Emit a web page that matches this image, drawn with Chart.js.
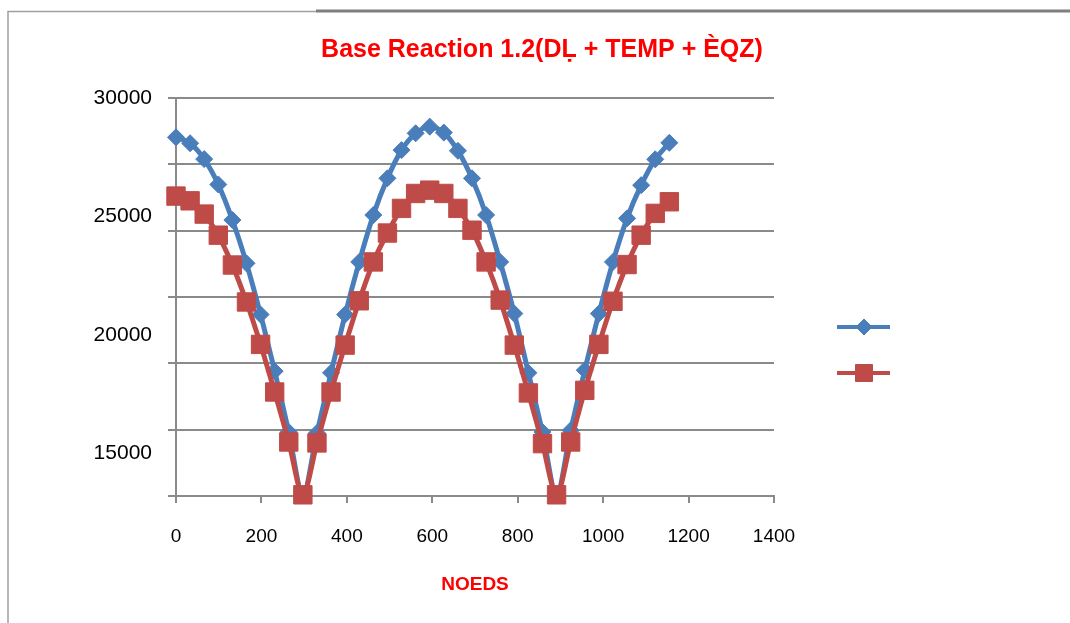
<!DOCTYPE html>
<html>
<head>
<meta charset="utf-8">
<script src="https://cdn.jsdelivr.net/npm/chart.js@4/dist/chart.umd.min.js"></script>
<style>
html,body{margin:0;padding:0;background:#fff;}
#wrap{position:relative;width:1070px;height:623px;}
canvas{display:block;}
</style>
</head>
<body>
<div id="wrap"><canvas id="c" width="1070" height="623"></canvas></div>
<script>
// ---- data ----
const nodes = [0,33,66,99,132,165,198,231,264,297,330,363,396,429,462,495,528,561,594,627,660,693,726,759,792,825,858,891,924,957,990,1023,1056,1089,1122,1155];
const series1 = [28340,28090,27420,26350,24850,23020,20860,18470,15900,13250,15860,18400,20860,23080,25060,26610,27800,28510,28790,28540,27770,26610,25060,23080,20900,18400,15900,13250,15970,18510,20900,23080,24920,26320,27410,28110];
const series2 = [25860,25660,25100,24210,22950,21390,19600,17590,15480,13250,15440,17590,19570,21440,23080,24300,25340,25970,26110,25970,25340,24420,23080,21470,19570,17550,15410,13250,15480,17660,19600,21420,22970,24210,25130,25620];
const xTicks = [0,200,400,600,800,1000,1200,1400];
const yLabelTicks = [15000,20000,25000,30000];
const yGridTicks = [13200,16000,18800,21600,24400,27200,30000];
const chartTitle = 'Base Reaction 1.2(D\u1E36 + TEMP + \u00C8QZ)';
const xTitle = 'NOEDS';

const BLUE = '#4A7EBB', RED = '#BE4B48', GRID = '#8a8a8a';
const FONT = "'Liberation Sans', Arial, sans-serif";

const framePlugin = {
  id: 'frame',
  beforeDraw(chart) {
    const ctx = chart.ctx;
    ctx.save();
    ctx.fillStyle = '#fff';
    ctx.fillRect(0, 0, chart.width, chart.height);
    ctx.strokeStyle = '#a0a0a0';
    ctx.lineWidth = 1.5;
    ctx.beginPath();
    ctx.moveTo(8, 623); ctx.lineTo(8, 11.5); ctx.lineTo(316, 11.5);
    ctx.stroke();
    ctx.strokeStyle = '#7f7f7f';
    ctx.lineWidth = 3;
    ctx.beginPath();
    ctx.moveTo(316, 11); ctx.lineTo(1070, 11);
    ctx.stroke();
    ctx.restore();
  }
};

const legendPlugin = {
  id: 'sideLegend',
  afterDraw(chart) {
    const ctx = chart.ctx;
    const items = [
      {color: BLUE, style: 'rectRot', radius: 8, y: 327},
      {color: RED, style: 'rect', radius: 12, y: 373}
    ];
    items.forEach(it => {
      ctx.save();
      ctx.strokeStyle = it.color;
      ctx.lineWidth = 4;
      ctx.beginPath();
      ctx.moveTo(837, it.y); ctx.lineTo(890, it.y);
      ctx.stroke();
      ctx.fillStyle = it.color;
      ctx.lineWidth = 1;
      Chart.helpers.drawPoint(ctx, {pointStyle: it.style, radius: it.radius, rotation: 0, borderWidth: 1}, 864, it.y);
      ctx.restore();
    });
  }
};

const plain = v => String(v);

new Chart(document.getElementById('c'), {
  type: 'line',
  data: {
    datasets: [
      {
        label: 'Series1',
        data: nodes.map((x, i) => ({x: x, y: series1[i]})),
        borderColor: BLUE, backgroundColor: BLUE,
        pointBorderColor: BLUE, pointBackgroundColor: BLUE,
        borderWidth: 5, pointStyle: 'rectRot', pointRadius: 8.5, pointBorderWidth: 1,
        tension: 0.3, clip: false, order: 2, xAxisID: 'x', yAxisID: 'y'
      },
      {
        label: 'Series2',
        data: nodes.map((x, i) => ({x: x, y: series2[i]})),
        borderColor: RED, backgroundColor: RED,
        pointBorderColor: RED, pointBackgroundColor: RED,
        borderWidth: 5, pointStyle: 'rect', pointRadius: 13, pointBorderWidth: 1,
        tension: 0.3, clip: false, order: 1, xAxisID: 'x', yAxisID: 'y'
      }
    ]
  },
  options: {
    responsive: false,
    animation: false,
    devicePixelRatio: 1,
    layout: {padding: {left: 14, top: 0, right: 0, bottom: 0}},
    plugins: {
      legend: {display: false},
      tooltip: {enabled: false},
      title: {
        display: true, text: chartTitle, color: '#FF0000',
        font: {family: FONT, size: 25, weight: 'bold'},
        padding: {top: 35, bottom: 33}
      }
    },
    scales: {
      y: {
        type: 'linear', position: 'left', min: 13200, max: 30000,
        afterBuildTicks: s => { s.ticks = yGridTicks.map(v => ({value: v})); },
        afterFit: s => { s.width = 10; },
        ticks: {display: false},
        grid: {color: GRID, lineWidth: 2, tickLength: 8},
        border: {color: GRID, width: 2}
      },
      yl: {
        type: 'linear', position: 'left', min: 13200, max: 30000,
        afterBuildTicks: s => { s.ticks = yLabelTicks.map(v => ({value: v})); },
        afterFit: s => { s.width = 152; },
        ticks: {color: '#000', font: {family: FONT, size: 21}, padding: 14, callback: plain},
        grid: {display: false, drawTicks: false, tickLength: 0}, border: {display: false}
      },
      x: {
        type: 'linear', position: 'bottom', min: 0, max: 1400,
        afterBuildTicks: s => { s.ticks = xTicks.map(v => ({value: v})); },
        afterFit: s => { s.height = 127; },
        ticks: {color: '#000', font: {family: FONT, size: 19}, padding: 22, maxRotation: 0, callback: plain},
        grid: {drawOnChartArea: false, drawTicks: true, tickLength: 7, color: GRID, lineWidth: 2},
        border: {color: GRID, width: 2},
        title: {display: true, text: xTitle, color: '#FF0000', font: {family: FONT, size: 19, weight: 'bold'}, padding: 27}
      },
      yr: {
        type: 'linear', position: 'right', display: true,
        afterFit: s => { s.width = 296; },
        ticks: {display: false}, grid: {display: false}, border: {display: false}
      }
    }
  },
  plugins: [framePlugin, legendPlugin]
});
</script>
</body>
</html>
